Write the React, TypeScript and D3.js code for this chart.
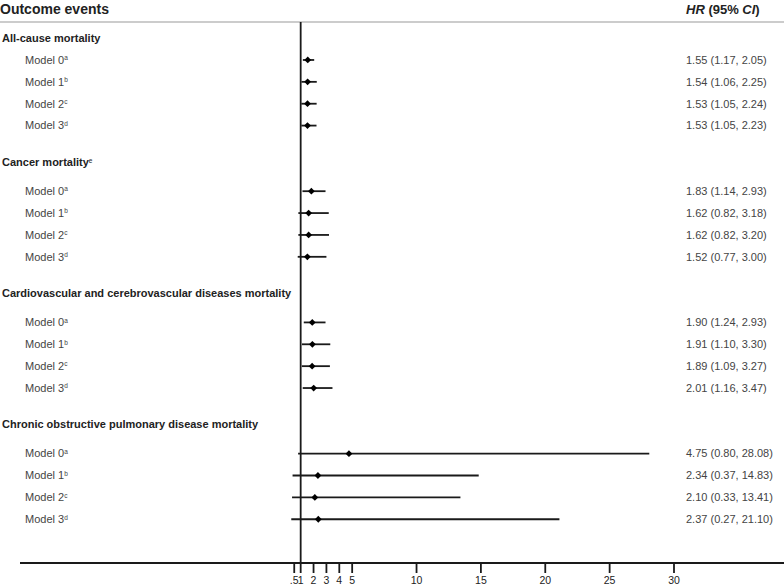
import React from "react";
import * as d3 from "d3";

const groupLabels = [
  "All-cause mortality",
  "Cancer mortality",
  "Cardiovascular and cerebrovascular diseases mortality",
  "Chronic obstructive pulmonary disease mortality",
];
const groupSup = ["", "e", "", ""];
const modelNames = ["Model 0", "Model 1", "Model 2", "Model 3"];
const modelSup = ["a", "b", "c", "d"];

const hrValues = [
  [1.55, 1.54, 1.53, 1.53],
  [1.83, 1.62, 1.62, 1.52],
  [1.9, 1.91, 1.89, 2.01],
  [4.75, 2.34, 2.1, 2.37],
];
const lowerValues = [
  [1.17, 1.06, 1.05, 1.05],
  [1.14, 0.82, 0.82, 0.77],
  [1.24, 1.1, 1.09, 1.16],
  [0.8, 0.37, 0.33, 0.27],
];
const upperValues = [
  [2.05, 2.25, 2.24, 2.23],
  [2.93, 3.18, 3.2, 3.0],
  [2.93, 3.3, 3.27, 3.47],
  [28.08, 14.83, 13.41, 21.1],
];
const tickValues = [0.5, 1, 2, 3, 4, 5, 10, 15, 20, 25, 30];
const tickLabels = [".5", "1", "2", "3", "4", "5", "10", "15", "20", "25", "30"];

const W = 784;
const H = 585;
const FONT = "'Liberation Sans', Arial, sans-serif";

export default function App() {
  const x = d3.scaleLinear().domain([0, 30]).range([287.8, 674]);
  const y = d3.scaleLinear().domain([0, 24]).range([38.1, 563]);
  const fmt = d3.format(".2f");

  const rows: React.ReactNode[] = [];
  groupLabels.forEach((g, gi) => {
    const labelIdx = gi === 0 ? 0 : gi * 6 - 0.33;
    rows.push(
      <text
        key={`g${gi}`}
        x={2}
        y={y(labelIdx)}
        dy="0.35em"
        fontSize={11}
        fontWeight="bold"
        fill="#222"
      >
        {g}
        {groupSup[gi] && (
          <tspan fontSize={6.5} dy="-0.5em" fontWeight="normal">
            {groupSup[gi]}
          </tspan>
        )}
      </text>
    );
    modelNames.forEach((m, mi) => {
      const idx = gi * 6 + 1 + mi;
      const yy = y(idx);
      const hr = hrValues[gi][mi];
      const lo = lowerValues[gi][mi];
      const hi = upperValues[gi][mi];
      const cx = x(hr);
      const s = 3.4;
      rows.push(
        <g key={`m${gi}-${mi}`}>
          <text x={25} y={yy} dy="0.35em" fontSize={11} fill="#444">
            {m}
            <tspan fontSize={6.5} dy="-0.55em">
              {modelSup[mi]}
            </tspan>
          </text>
          <line x1={x(lo)} x2={x(hi)} y1={yy} y2={yy} stroke="#1a1a1a" strokeWidth={1.8} />
          <path
            d={`M${cx},${yy - s}L${cx + s},${yy}L${cx},${yy + s}L${cx - s},${yy}Z`}
            fill="#000"
          />
          <text x={686} y={yy} dy="0.35em" fontSize={11} fill="#444">
            {`${fmt(hr)} (${fmt(lo)}, ${fmt(hi)})`}
          </text>
        </g>
      );
    });
  });

  const axisY = y(24);

  return (
    <svg
      width={W}
      height={H}
      style={{ position: "absolute", left: 0, top: 0, fontFamily: FONT }}
    >
      <rect width={W} height={H} fill="#fff" />
      <text x={0} y={9} dy="0.35em" fontSize={14} fontWeight="bold" fill="#222">
        Outcome events
      </text>
      <text x={686} y={9} dy="0.35em" fontSize={13} fontWeight="bold" fill="#222">
        <tspan fontStyle="italic">HR</tspan>
        <tspan> (95% </tspan>
        <tspan fontStyle="italic">CI</tspan>
        <tspan>)</tspan>
      </text>
      <line x1={0} x2={W} y1={22} y2={22} stroke="#bbb" strokeWidth={1.5} />
      <line x1={x(1)} x2={x(1)} y1={22} y2={axisY} stroke="#1a1a1a" strokeWidth={1.8} />
      {rows}
      <line x1={20} x2={W} y1={axisY} y2={axisY} stroke="#1a1a1a" strokeWidth={1.8} />
      {tickValues.map((t, i) => (
        <g key={`t${i}`}>
          <line x1={x(t)} x2={x(t)} y1={axisY} y2={axisY + 10} stroke="#1a1a1a" strokeWidth={1.8} />
          <text
            x={x(t)}
            y={axisY + 17}
            dy="0.35em"
            fontSize={10.5}
            textAnchor="middle"
            fill="#222"
          >
            {tickLabels[i]}
          </text>
        </g>
      ))}
    </svg>
  );
}
